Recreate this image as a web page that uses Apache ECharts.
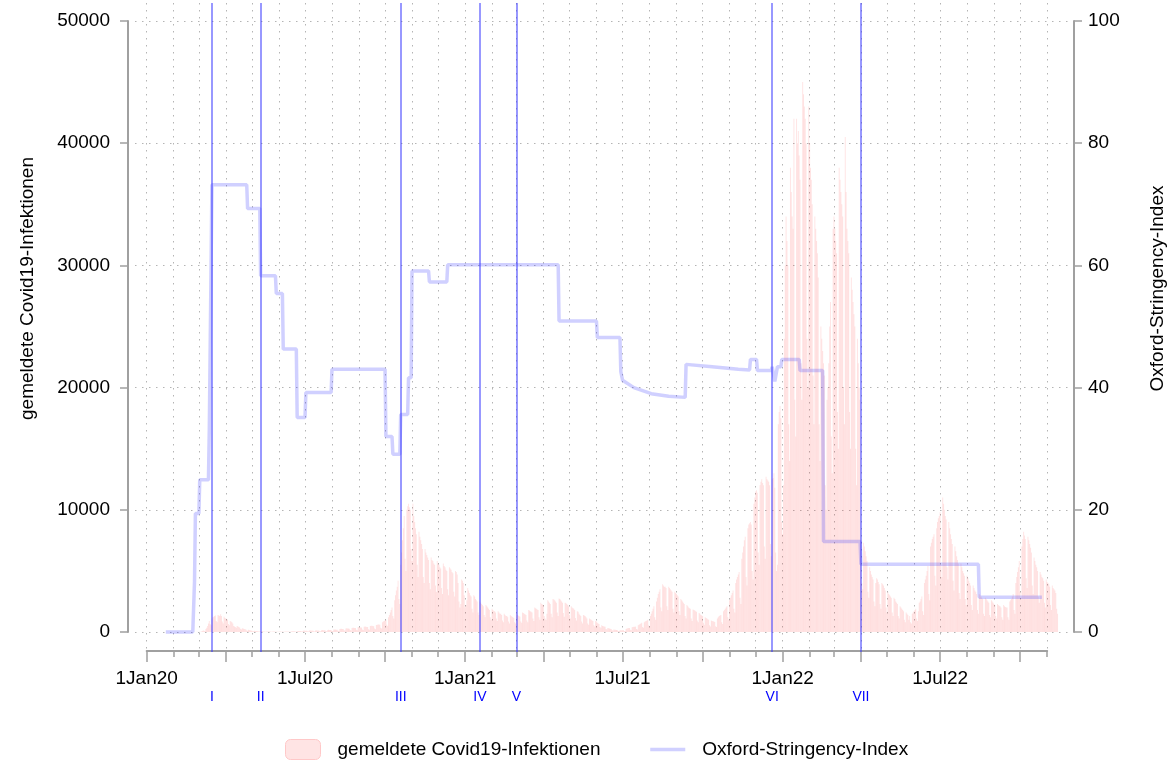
<!DOCTYPE html>
<html>
<head>
<meta charset="utf-8">
<script src="https://cdn.jsdelivr.net/npm/echarts@6/dist/echarts.min.js"></script>
<style>
  html, body { margin: 0; padding: 0; background: #fff; }
  #chart { width: 1175px; height: 760px; }
</style>
</head>
<body>
<div id="chart"></div>
<script>
// Tage werden ab dem 1.1.2020 gezaehlt (1.1.2020 = Tag 0)

// gemeldete Faelle pro Tag, je Zeile eine Woche (Mo..So)
const ersterTag2020 = 54 // Mo 24.2.2020
const faelle2020 = [
  0, 1, 3, 6, 10, 8, 6,
  20, 30, 50, 80, 130, 100, 90,
  250, 350, 500, 700, 900, 650, 550,
  1100, 1200, 1250, 1300, 1350, 900, 800,
  1400, 1350, 1300, 1450, 1300, 850, 700,
  1250, 1150, 1100, 1050, 1000, 650, 550,
  900, 850, 800, 700, 500, 450, 400,
  350, 500, 450, 400, 350, 250, 200,
  300, 280, 250, 230, 200, 130, 110,
  180, 160, 140, 130, 110, 70, 60,
  100, 90, 80, 80, 70, 40, 35,
  70, 60, 55, 50, 45, 30, 25,
  50, 45, 40, 40, 35, 20, 20,
  40, 35, 35, 30, 30, 20, 15,
  30, 40, 35, 30, 35, 20, 15,
  35, 40, 45, 40, 35, 25, 20,
  50, 60, 55, 65, 60, 35, 30,
  70, 85, 90, 80, 75, 45, 40,
  110, 120, 100, 110, 105, 60, 50,
  120, 130, 125, 110, 115, 60, 50,
  130, 140, 120, 130, 125, 70, 60,
  150, 160, 150, 140, 140, 80, 70,
  170, 180, 170, 160, 160, 90, 80,
  200, 210, 200, 190, 190, 110, 90,
  250, 270, 260, 250, 240, 140, 120,
  290, 300, 290, 280, 270, 160, 130,
  330, 350, 340, 330, 320, 180, 150,
  380, 400, 390, 370, 360, 200, 170,
  420, 440, 430, 410, 400, 230, 190,
  500, 520, 510, 490, 480, 280, 230,
  580, 600, 620, 610, 600, 350, 290,
  800, 850, 900, 950, 1000, 600, 500,
  1200, 1400, 1600, 1800, 2000, 1300, 1100,
  2600, 3000, 3400, 3700, 4200, 2700, 2300,
  5500, 6500, 7500, 8500, 9500, 6000, 5000,
  10000, 10300, 10500, 10200, 10000, 6800, 5800,
  10500, 9500, 9000, 8500, 8000, 5500, 4500,
  8200, 7800, 7500, 7200, 6800, 4500, 4000,
  6800, 6500, 6300, 6100, 5900, 4000, 3500,
  6100, 5900, 5800, 5600, 5500, 3800, 3300,
  5800, 5600, 5500, 5300, 5200, 3600, 3100,
  5600, 5400, 5300, 5100, 5000, 3500, 3000,
  5300, 5200, 5100, 4900, 4800, 3300, 2900,
  5000, 4900, 4700, 4000, 2500, 2000, 2300
]

const ersterTag2021 = 362 // Mo 28.12.2020
const faelle2021 = [
  4300, 4200, 4000, 3000, 2000, 2200, 2600,
  3600, 3400, 3200, 3000, 2900, 1900, 1600,
  3000, 2900, 2700, 2600, 2500, 1600, 1400,
  2500, 2400, 2300, 2200, 2100, 1400, 1200,
  2200, 2100, 2000, 1900, 1800, 1200, 1000,
  1900, 1800, 1700, 1700, 1600, 1100, 900,
  1700, 1600, 1500, 1500, 1400, 950, 800,
  1500, 1400, 1300, 1300, 1200, 850, 700,
  1400, 1300, 1250, 1200, 1150, 800, 700,
  1450, 1400, 1350, 1300, 1250, 850, 750,
  1600, 1550, 1500, 1450, 1400, 950, 800,
  1800, 1750, 1700, 1650, 1600, 1100, 900,
  2000, 1950, 1900, 1850, 1800, 1200, 1000,
  2400, 2300, 2250, 2200, 1300, 1100, 1000,
  1500, 2600, 2500, 2400, 2300, 1500, 1200,
  2700, 2650, 2600, 2500, 2400, 1600, 1300,
  2750, 2700, 2600, 2500, 2400, 1550, 1250,
  2400, 2350, 2300, 2200, 2100, 1400, 1100,
  2100, 2000, 1950, 1900, 1800, 1150, 950,
  1700, 1650, 1500, 1400, 1300, 850, 700,
  1400, 1350, 1300, 1200, 1100, 700, 600,
  1100, 1050, 1000, 950, 900, 550, 450,
  900, 850, 750, 700, 650, 400, 350,
  550, 500, 480, 450, 420, 250, 200,
  320, 300, 280, 260, 240, 140, 120,
  200, 190, 180, 170, 160, 90, 80,
  150, 140, 140, 150, 160, 90, 80,
  250, 280, 300, 320, 330, 180, 150,
  380, 400, 420, 430, 440, 250, 200,
  550, 600, 650, 700, 750, 400, 350,
  800, 850, 900, 950, 1000, 550, 450,
  1300, 1500, 1700, 1900, 2100, 1200, 1000,
  2500, 2800, 3100, 3300, 3500, 2000, 1700,
  3900, 3800, 3700, 3700, 3600, 2100, 1800,
  3700, 3600, 3500, 3400, 3300, 1900, 1600,
  3300, 3200, 3100, 3000, 2900, 1700, 1400,
  2700, 2600, 2500, 2400, 2300, 1300, 1100,
  2200, 2100, 2000, 1950, 1900, 1100, 900,
  1850, 1800, 1750, 1700, 1650, 950, 800,
  1550, 1500, 1400, 1350, 1300, 750, 600,
  1200, 1150, 1100, 1050, 1000, 550, 450,
  950, 900, 880, 850, 820, 480, 400,
  1100, 1200, 1300, 1350, 1400, 800, 650,
  1700, 1800, 1900, 2000, 2100, 1200, 1000,
  2600, 2800, 3000, 3200, 3400, 1900, 1600,
  4000, 4300, 4500, 4700, 4900, 2800, 2300,
  6000, 6500, 7000, 7500, 7800, 4500, 3800,
  8500, 8800, 8900, 9000, 8800, 5000, 4300,
  10500, 11000, 11500, 11600, 11400, 6500, 5500,
  12000, 12300, 12500, 12200, 12000, 7000, 6000,
  12700, 12500, 12400, 12300, 12000, 7200, 6200,
  12500, 12600, 13000, 11800, 6500, 5000, 5500
]

const ersterTag2022 = 726 // Mo 27.12.2021
const faelle2022 = [
  17000, 18000, 18500, 17500, 9000, 8000, 12000,
  24000, 30000, 34000, 32000, 30000, 17000, 14000,
  38000, 36000, 34000, 33000, 42000, 19000, 16000,
  42000, 40000, 41000, 39000, 37000, 22000, 19000,
  45000, 44000, 43000, 42000, 40000, 24000, 20000,
  43000, 40000, 38000, 37000, 35000, 21000, 17000,
  34000, 33000, 32000, 31000, 29000, 17000, 14000,
  25000, 24000, 23000, 22000, 21000, 12000, 10000,
  19000, 20000, 22000, 25000, 27000, 16000, 13000,
  33000, 34000, 33000, 32000, 31000, 18000, 15000,
  38000, 37000, 36000, 35000, 34000, 20000, 17000,
  40500, 36000, 33000, 32000, 31000, 18000, 15000,
  29000, 28000, 27000, 26000, 25000, 15000, 12000,
  24000, 22000, 20000, 19000, 7500, 4000, 3500,
  7300, 7000, 6600, 6200, 5800, 3300, 2800,
  5300, 5000, 4700, 4500, 4300, 2500, 2100,
  4000, 4400, 4300, 4100, 3900, 2300, 1900,
  4000, 3900, 3800, 3600, 3400, 2000, 1600,
  3300, 3100, 3000, 2900, 2800, 1600, 1300,
  2800, 2700, 2500, 2400, 2300, 1300, 1100,
  2100, 2000, 1900, 1800, 1700, 1000, 800,
  1600, 1500, 1400, 1000, 1300, 800, 700,
  1500, 1600, 1700, 1800, 1900, 1100, 900,
  1700, 2400, 2500, 2700, 2900, 1700, 1400,
  4000, 4300, 4600, 5000, 5400, 3100, 2600,
  7000, 7300, 7600, 7800, 8000, 4600, 3800,
  8500, 9000, 9300, 9500, 9800, 5500, 4500,
  11000, 10500, 10000, 9500, 9200, 5300, 4300,
  9000, 8500, 8000, 7600, 7200, 4200, 3400,
  7000, 6600, 6200, 5900, 5600, 3200, 2700,
  5600, 5300, 5000, 4800, 4600, 2700, 2200,
  4600, 4400, 4200, 4000, 3800, 2200, 1800,
  3800, 3600, 3400, 3300, 3100, 1800, 1500,
  3100, 3000, 2900, 2800, 2700, 1500, 1300,
  2800, 2700, 2600, 2500, 2400, 1400, 1200,
  2600, 2500, 2400, 2300, 2200, 1300, 1100,
  2300, 2200, 2150, 2100, 2000, 1200, 1000,
  2200, 2100, 2050, 2000, 2000, 1200, 1000,
  2500, 2600, 2700, 2900, 3100, 1800, 1500,
  4000, 4500, 4900, 5300, 5800, 3300, 2800,
  7000, 7600, 8200, 7900, 7600, 4400, 3600,
  7800, 7500, 7200, 6900, 6500, 3800, 3100,
  6100, 5800, 5500, 5300, 5000, 2900, 2400,
  4900, 4700, 4500, 4400, 4200, 2400, 2000,
  4300, 4100, 4000, 3900, 3700, 2200, 1800,
  3800, 3600, 3500, 3400, 3200, 1900, 1500
]

// Oxford-Stringency-Index: Stuetzpunkte (Tag, Wert)
const stringencyTage = [
  22, 53, 55, 56, 60, 61, 71, 72, 74, 75, 115, 116, 130, 131, 148, 149, 156, 157,
  172, 173, 182, 183, 212, 213, 274, 275, 282, 283, 291, 292, 300, 301, 304, 305,
  324, 325, 345, 346, 473, 474, 517, 518, 544, 545, 547, 560, 580, 600, 619, 620,
  650, 680, 693, 694, 701, 702, 718, 719, 721, 722, 724, 725, 729, 730, 750, 751,
  777, 778, 820, 821, 956, 957, 1029
]
const stringencyWerte = [
  0, 0, 8.3, 19.4, 19.4, 24.9, 24.9, 33.4, 33.4, 73.2, 73.2, 69.3, 69.3, 58.3, 58.3, 55.4, 55.4, 46.3,
  46.3, 35.1, 35.1, 39.2, 39.2, 43.0, 43.0, 32.0, 32.0, 29.1, 29.1, 35.6, 35.6, 41.6, 41.6, 59.1,
  59.1, 57.3, 57.3, 60.1, 60.1, 50.9, 50.9, 48.2, 48.2, 42.6, 41.2, 40.0, 39.0, 38.6, 38.4, 43.8,
  43.4, 43.0, 42.9, 44.6, 44.6, 42.8, 42.8, 43.4, 43.4, 41.0, 41.0, 43.4, 43.4, 44.6, 44.6, 42.8,
  42.8, 14.8, 14.8, 11.1, 11.1, 5.7, 5.7
]

// Massnahmen-Zeitpunkte
const massnahmenTage = [75, 131, 292, 383, 425, 719, 821]
const massnahmenLabels = ['I', 'II', 'III', 'IV', 'V', 'VI', 'VII']

const monatsNamen = ['Jan', 'Feb', 'Mar', 'Apr', 'May', 'Jun', 'Jul', 'Aug', 'Sep', 'Oct', 'Nov', 'Dec']

// Tageskategorien fuer die Zeitachse 1.1.2020 .. 1.11.2022
const tagMs = 86400000
const kategorien = []
for (let t = Date.UTC(2020, 0, 1); t <= Date.UTC(2022, 10, 1); t += tagMs) {
  kategorien.push(new Date(t).toISOString().slice(0, 10))
}

const faelleDaten = []
const addFaelle = (start, werte) => werte.forEach((v, i) => faelleDaten.push([start + i, v]))
addFaelle(ersterTag2020, faelle2020)
addFaelle(ersterTag2021, faelle2021)
addFaelle(ersterTag2022, faelle2022)

const stringencyDaten = stringencyTage.map((t, i) => [t, stringencyWerte[i]])

const istMonatsanfang = (i, v) => v.slice(8) === '01'
const istQuartal = (i, v) => v.slice(8) === '01' && ['01', '04', '07', '10'].includes(v.slice(5, 7))
const istHalbjahr = (i, v) => v.slice(8) === '01' && ['01', '07'].includes(v.slice(5, 7))

const grau = '#a0a0a0'
const punktLinie = { color: '#b4b4b4', type: [1.5, 5.5] }
const schrift = 'Liberation Sans, Arial, sans-serif'
const nameFaelle = 'gemeldete Covid19-Infektionen'
const nameIndex = 'Oxford-Stringency-Index'
const linienFarbe = 'rgba(40, 40, 255, 0.22)'

const chart = echarts.init(document.getElementById('chart'))

const option = {
  animation: false,
  textStyle: { fontFamily: schrift },
  grid: [
    { left: 134.5, width: 936.1, top: 3, height: 649 },   // Daten
    { left: 128, right: 99, top: 21, bottom: 128 },       // y-Achsen
    { left: 146.7, width: 900.5, top: 3, bottom: 109 },   // Monats-Ticks
    { left: 146.7, width: 900.5, top: 3, bottom: 109 },   // Quartals-Ticks
    { left: 135, right: 105, top: 21, bottom: 128 }       // horizontale Gitterlinien
  ],
  xAxis: [
    { gridIndex: 0, type: 'value', min: -14, max: 1062, show: false },
    { gridIndex: 1, type: 'value', min: 0, max: 1, show: false },
    {
      gridIndex: 2,
      type: 'category',
      data: kategorien,
      boundaryGap: false,
      axisLine: { lineStyle: { color: grau, width: 2 } },
      axisTick: { interval: istMonatsanfang, length: 6, lineStyle: { color: grau, width: 1.5 } },
      axisLabel: {
        interval: istHalbjahr,
        color: '#000',
        fontSize: 19,
        margin: 18,
        formatter: v => {
          const d = new Date(v)
          return d.getUTCDate() + monatsNamen[d.getUTCMonth()] + String(d.getUTCFullYear()).slice(2)
        }
      },
      splitLine: { show: true, interval: istMonatsanfang, lineStyle: punktLinie }
    },
    {
      gridIndex: 3,
      type: 'category',
      data: kategorien,
      boundaryGap: false,
      axisLine: { show: false },
      axisTick: { interval: istQuartal, length: 11, lineStyle: { color: grau, width: 1.5 } },
      axisLabel: { show: false },
      splitLine: { show: false }
    },
    { gridIndex: 4, type: 'value', min: 0, max: 1, show: false }
  ],
  yAxis: [
    { gridIndex: 0, type: 'value', min: -1637, max: 51473, show: false },
    { gridIndex: 0, type: 'value', min: -3.274, max: 102.946, show: false },
    {
      gridIndex: 1,
      type: 'value',
      position: 'left',
      min: 0,
      max: 50000,
      interval: 10000,
      name: nameFaelle,
      nameLocation: 'middle',
      nameRotate: 90,
      nameGap: 91,
      nameTextStyle: { color: '#000', fontSize: 19, padding: [0, 0, 0, 76] },
      axisLine: { show: true, lineStyle: { color: grau, width: 2 } },
      axisTick: { show: true, length: 8, lineStyle: { color: grau, width: 1.5 } },
      axisLabel: { color: '#000', fontSize: 19, margin: 18, formatter: v => String(v) },
      splitLine: { show: false }
    },
    {
      gridIndex: 1,
      type: 'value',
      position: 'right',
      min: 0,
      max: 100,
      interval: 20,
      name: nameIndex,
      nameLocation: 'middle',
      nameRotate: 90,
      nameGap: 74,
      nameTextStyle: { color: '#000', fontSize: 19, padding: [0, 0, 0, 76] },
      axisLine: { show: true, lineStyle: { color: grau, width: 2 } },
      axisTick: { show: true, length: 8, lineStyle: { color: grau, width: 1.5 } },
      axisLabel: { color: '#000', fontSize: 19, margin: 14 },
      splitLine: { show: false }
    },
    { gridIndex: 2, type: 'value', min: 0, max: 1, show: false },
    { gridIndex: 3, type: 'value', min: 0, max: 1, show: false },
    {
      gridIndex: 4,
      type: 'value',
      min: 0,
      max: 50000,
      interval: 10000,
      axisLine: { show: false },
      axisTick: { show: false },
      axisLabel: { show: false },
      splitLine: { show: true, lineStyle: punktLinie }
    }
  ],
  legend: {
    left: 280,
    top: 734,
    itemWidth: 35,
    itemHeight: 20,
    itemGap: 48,
    textStyle: { color: '#000', fontSize: 19, padding: [0, 0, 0, 12] },
    data: [
      { name: nameFaelle, itemStyle: { color: '#ffe4e4', borderColor: '#ffc8c8', borderWidth: 1 } },
      {
        name: nameIndex,
        itemStyle: { color: 'rgba(0,0,0,0)', borderWidth: 0, opacity: 0 },
        lineStyle: { color: linienFarbe, width: 3.5, opacity: 1 }
      }
    ]
  },
  series: [
    {
      name: nameFaelle,
      type: 'bar',
      xAxisIndex: 0,
      yAxisIndex: 0,
      barWidth: 0.9,
      itemStyle: { color: 'rgba(255, 40, 40, 0.12)' },
      data: faelleDaten
    },
    {
      name: nameIndex,
      type: 'line',
      xAxisIndex: 0,
      yAxisIndex: 1,
      symbol: 'none',
      lineStyle: { color: linienFarbe, width: 3.5 },
      itemStyle: { color: linienFarbe },
      data: stringencyDaten,
      z: 3
    },
    {
      type: 'line',
      xAxisIndex: 0,
      yAxisIndex: 0,
      data: [],
      z: 4,
      markLine: {
        silent: true,
        symbol: 'none',
        lineStyle: { color: 'rgba(50, 50, 255, 0.5)', width: 2, type: 'solid' },
        label: {
          show: true,
          position: 'start',
          distance: 38,
          color: '#0000ff',
          fontSize: 14,
          formatter: '{b}'
        },
        data: massnahmenTage.map((t, i) => ({ xAxis: t, name: massnahmenLabels[i] }))
      }
    }
  ]
}

chart.setOption(option)
window.addEventListener('resize', () => chart.resize())
</script>
</body>
</html>
